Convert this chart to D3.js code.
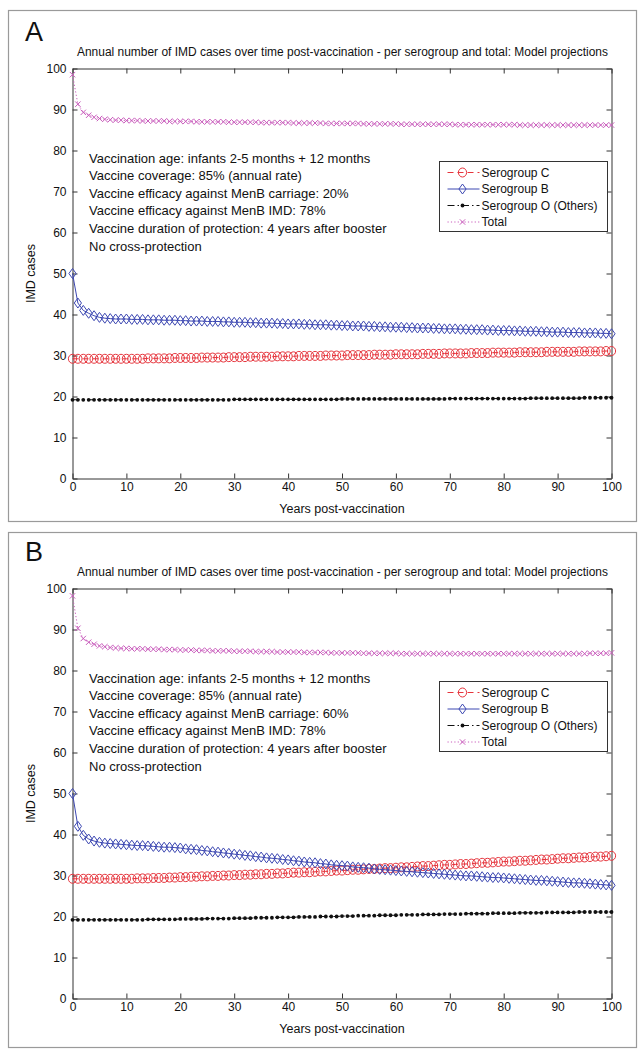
<!DOCTYPE html>
<html>
<head>
<meta charset="utf-8">
<script src="https://cdn.jsdelivr.net/npm/d3@7"></script>
<style>
  body { margin: 0; background: #fff; }
  text { font-family: "Liberation Sans", Arial, Helvetica, sans-serif; fill: #111; }
</style>
</head>
<body>
<svg id="chart" width="638" height="1055"></svg>
<script>
// Years after vaccination (x categories)
const years = [
  0,1,2,3,4,5,6,7,8,9,10,11,12,13,14,15,16,17,18,19,20,21,22,23,24,25,26,27,28,29,
  30,31,32,33,34,35,36,37,38,39,40,41,42,43,44,45,46,47,48,49,50,51,52,53,54,55,56,57,58,59,
  60,61,62,63,64,65,66,67,68,69,70,71,72,73,74,75,76,77,78,79,80,81,82,83,84,85,86,87,88,89,
  90,91,92,93,94,95,96,97,98,99,100
];

const xTicks = [0,10,20,30,40,50,60,70,80,90,100];
const yTicks = [0,10,20,30,40,50,60,70,80,90,100];

// Scenario A: 20% efficacy against MenB carriage
const serogroupC_A = [
  29.2,29.2,29.2,29.2,29.2,29.2,29.2,29.2,29.2,29.2,
  29.2,29.2,29.2,29.2,29.3,29.3,29.3,29.3,29.3,29.4,
  29.4,29.4,29.4,29.4,29.5,29.5,29.5,29.5,29.5,29.6,
  29.6,29.6,29.6,29.7,29.7,29.7,29.7,29.7,29.8,29.8,
  29.8,29.8,29.9,29.9,29.9,29.9,29.9,30.0,30.0,30.0,
  30.0,30.1,30.1,30.1,30.1,30.1,30.2,30.2,30.2,30.2,
  30.3,30.3,30.3,30.3,30.3,30.4,30.4,30.4,30.4,30.5,
  30.5,30.5,30.5,30.5,30.6,30.6,30.6,30.6,30.7,30.7,
  30.7,30.7,30.7,30.8,30.8,30.8,30.8,30.8,30.9,30.9,
  30.9,30.9,30.9,30.9,31.0,31.0,31.0,31.0,31.0,31.1,31.1
];
const serogroupB_A = [
  50.0,42.8,41.0,40.3,39.7,39.3,39.1,39.0,38.9,38.9,
  38.9,38.8,38.8,38.8,38.7,38.7,38.7,38.6,38.6,38.6,
  38.5,38.5,38.4,38.4,38.4,38.3,38.3,38.3,38.2,38.2,
  38.1,38.1,38.1,38.0,38.0,37.9,37.9,37.9,37.8,37.8,
  37.7,37.7,37.7,37.6,37.6,37.5,37.5,37.5,37.4,37.4,
  37.3,37.3,37.2,37.2,37.2,37.1,37.1,37.0,37.0,36.9,
  36.9,36.9,36.8,36.8,36.7,36.7,36.7,36.6,36.6,36.5,
  36.5,36.5,36.4,36.4,36.3,36.3,36.3,36.2,36.2,36.1,
  36.1,36.1,36.0,36.0,35.9,35.9,35.9,35.8,35.8,35.7,
  35.7,35.7,35.6,35.6,35.6,35.5,35.5,35.5,35.4,35.4,35.3
];
const serogroupO_A = [
  19.2,19.2,19.2,19.2,19.2,19.2,19.2,19.2,19.2,19.2,
  19.2,19.2,19.2,19.2,19.2,19.2,19.2,19.2,19.2,19.2,
  19.2,19.2,19.2,19.2,19.2,19.2,19.2,19.2,19.2,19.2,
  19.3,19.3,19.3,19.3,19.3,19.3,19.3,19.3,19.3,19.3,
  19.3,19.3,19.3,19.3,19.3,19.3,19.3,19.3,19.3,19.3,
  19.4,19.4,19.4,19.4,19.4,19.4,19.4,19.4,19.4,19.4,
  19.4,19.4,19.4,19.4,19.4,19.4,19.4,19.4,19.4,19.4,
  19.5,19.5,19.5,19.5,19.5,19.5,19.5,19.5,19.5,19.5,
  19.5,19.5,19.5,19.5,19.5,19.6,19.6,19.6,19.6,19.6,
  19.6,19.6,19.6,19.6,19.6,19.7,19.7,19.7,19.7,19.7,19.7
];
const total_A = [
  98.5,91.3,89.3,88.6,88.1,87.8,87.6,87.5,87.4,87.4,
  87.3,87.3,87.3,87.2,87.2,87.2,87.2,87.2,87.1,87.1,
  87.1,87.1,87.1,87.0,87.0,87.0,87.0,87.0,87.0,86.9,
  86.9,86.9,86.9,86.9,86.9,86.8,86.8,86.8,86.8,86.8,
  86.8,86.7,86.7,86.7,86.7,86.7,86.7,86.6,86.6,86.6,
  86.6,86.6,86.6,86.6,86.5,86.5,86.5,86.5,86.5,86.5,
  86.5,86.4,86.4,86.4,86.4,86.4,86.4,86.4,86.4,86.4,
  86.4,86.3,86.3,86.3,86.3,86.3,86.3,86.3,86.3,86.3,
  86.3,86.3,86.3,86.2,86.2,86.2,86.2,86.2,86.2,86.2,
  86.2,86.2,86.2,86.2,86.2,86.2,86.2,86.2,86.2,86.2,86.2
];

// Scenario B: 60% efficacy against MenB carriage
const serogroupC_B = [
  29.2,29.2,29.2,29.2,29.2,29.2,29.2,29.2,29.2,29.2,
  29.2,29.2,29.3,29.3,29.3,29.4,29.4,29.4,29.5,29.5,
  29.6,29.6,29.7,29.7,29.8,29.8,29.9,29.9,30.0,30.0,
  30.1,30.1,30.2,30.2,30.3,30.3,30.4,30.4,30.5,30.5,
  30.6,30.7,30.7,30.8,30.8,30.9,31.0,31.0,31.1,31.2,
  31.2,31.3,31.4,31.4,31.5,31.6,31.6,31.7,31.8,31.8,
  31.9,32.0,32.0,32.1,32.2,32.3,32.3,32.4,32.5,32.6,
  32.6,32.7,32.8,32.8,32.9,33.0,33.1,33.1,33.2,33.3,
  33.4,33.4,33.5,33.6,33.6,33.7,33.8,33.9,33.9,34.0,
  34.1,34.2,34.2,34.3,34.4,34.4,34.5,34.6,34.6,34.7,34.8
];
const serogroupB_B = [
  50.0,42.0,39.8,38.9,38.4,38.1,37.9,37.8,37.7,37.6,
  37.5,37.4,37.3,37.3,37.2,37.1,37.0,36.9,36.9,36.8,
  36.7,36.5,36.4,36.3,36.1,36.0,35.8,35.7,35.5,35.4,
  35.2,35.1,34.9,34.8,34.6,34.5,34.3,34.2,34.1,33.9,
  33.8,33.6,33.5,33.3,33.2,33.1,32.9,32.8,32.6,32.5,
  32.4,32.3,32.1,32.0,31.9,31.8,31.6,31.5,31.4,31.3,
  31.2,31.1,31.0,30.9,30.8,30.7,30.6,30.5,30.4,30.3,
  30.2,30.1,30.0,29.9,29.9,29.8,29.7,29.6,29.5,29.5,
  29.4,29.3,29.2,29.1,29.0,28.9,28.8,28.8,28.7,28.6,
  28.5,28.4,28.3,28.2,28.2,28.1,28.0,27.9,27.8,27.7,27.6
];
const serogroupO_B = [
  19.2,19.2,19.2,19.2,19.2,19.2,19.2,19.2,19.2,19.2,
  19.2,19.2,19.2,19.2,19.3,19.3,19.3,19.3,19.3,19.3,
  19.4,19.4,19.4,19.4,19.4,19.5,19.5,19.5,19.5,19.5,
  19.6,19.6,19.6,19.6,19.7,19.7,19.7,19.7,19.8,19.8,
  19.8,19.8,19.9,19.9,19.9,19.9,20.0,20.0,20.0,20.0,
  20.1,20.1,20.1,20.2,20.2,20.2,20.2,20.3,20.3,20.3,
  20.3,20.4,20.4,20.4,20.4,20.5,20.5,20.5,20.5,20.6,
  20.6,20.6,20.6,20.7,20.7,20.7,20.7,20.7,20.8,20.8,
  20.8,20.8,20.8,20.9,20.9,20.9,20.9,20.9,21.0,21.0,
  21.0,21.0,21.0,21.0,21.1,21.1,21.1,21.1,21.1,21.1,21.1
];
const total_B = [
  98.2,90.3,87.8,86.9,86.4,86.0,85.8,85.6,85.5,85.4,
  85.4,85.3,85.3,85.3,85.2,85.2,85.2,85.1,85.1,85.1,
  85.0,85.0,85.0,84.9,84.9,84.9,84.8,84.8,84.8,84.8,
  84.7,84.7,84.7,84.7,84.6,84.6,84.6,84.6,84.5,84.5,
  84.5,84.5,84.5,84.4,84.4,84.4,84.4,84.4,84.3,84.3,
  84.3,84.3,84.3,84.3,84.2,84.2,84.2,84.2,84.2,84.2,
  84.2,84.1,84.1,84.1,84.1,84.1,84.1,84.1,84.1,84.1,
  84.1,84.1,84.1,84.1,84.1,84.1,84.1,84.1,84.1,84.1,
  84.1,84.1,84.1,84.1,84.1,84.1,84.1,84.1,84.1,84.1,
  84.1,84.1,84.1,84.1,84.1,84.1,84.2,84.2,84.2,84.2,84.3
];

const seriesNames = ["Serogroup C", "Serogroup B", "Serogroup O (Others)", "Total"];
const chartTitle = "Annual number of IMD cases over time post-vaccination - per serogroup and total: Model projections";
const xLabel = "Years post-vaccination";
const yLabel = "IMD cases";
const notesCommon = [
  "Vaccination age: infants 2-5 months + 12 months",
  "Vaccine coverage: 85% (annual rate)"
];
const notesTail = [
  "Vaccine efficacy against MenB IMD: 78%",
  "Vaccine duration of protection: 4 years after booster",
  "No cross-protection"
];
const carriageEfficacy = ["20%", "60%"];

// Line / marker styles per series
const styles = [
  { color: "#e6343c", dash: "6,4",          marker: "circle"  },
  { color: "#3d48b2", dash: null,           marker: "diamond" },
  { color: "#111111", dash: "7,3,1.5,3",    marker: "dot"     },
  { color: "#c95cbc", dash: "1.2,2.2",      marker: "cross"   }
];

const svg = d3.select("#chart");

const plotLeft = 72.5, plotRight = 611.5;
const plotTop = 68.5, plotBottom = 478.5;
const x = d3.scaleLinear().domain([0, 100]).range([plotLeft, plotRight]);
const y = d3.scaleLinear().domain([0, 100]).range([plotBottom, plotTop]);

function drawMarker(sel, type, color, cx, cy) {
  if (type === "circle") {
    sel.append("ellipse").attr("cx", cx).attr("cy", cy).attr("rx", 4.1).attr("ry", 4.5)
      .attr("fill", "none").attr("stroke", color).attr("stroke-width", 1);
  } else if (type === "diamond") {
    sel.append("path")
      .attr("d", `M${cx},${cy - 5}L${cx + 3.6},${cy}L${cx},${cy + 5}L${cx - 3.6},${cy}Z`)
      .attr("fill", "none").attr("stroke", color).attr("stroke-width", 1);
  } else if (type === "dot") {
    sel.append("circle").attr("cx", cx).attr("cy", cy).attr("r", 1.9).attr("fill", color);
  } else {
    const s = 2.7;
    sel.append("path")
      .attr("d", `M${cx - s},${cy - s}L${cx + s},${cy + s}M${cx - s},${cy + s}L${cx + s},${cy - s}`)
      .attr("fill", "none").attr("stroke", color).attr("stroke-width", 1);
  }
}

function drawPanel(opt) {
  const g = svg.append("g").attr("transform", `translate(0,${opt.dy})`);

  // panel frame
  g.append("rect")
    .attr("x", 8.5).attr("y", opt.frameTop).attr("width", 628).attr("height", opt.frameHeight)
    .attr("fill", "none").attr("stroke", "#9a9a9a").attr("stroke-width", 1.2);

  // panel letter
  g.append("text").attr("x", 25).attr("y", 41).attr("font-size", 27).text(opt.letter);

  // title
  g.append("text")
    .attr("x", 77).attr("y", 56)
    .attr("font-size", 12)
    .style("font-family", "'Liberation Sans Narrow', 'Arial Narrow', 'Liberation Sans', Arial, sans-serif")
    .attr("textLength", 531).attr("lengthAdjust", "spacingAndGlyphs")
    .text(chartTitle);

  // axes (inward ticks on all four sides)
  const axisColor = "#333";
  const bottom = g.append("g").attr("transform", `translate(0,${plotBottom})`)
    .call(d3.axisBottom(x).tickValues(xTicks).tickSizeInner(-5).tickSizeOuter(0).tickPadding(4));
  const top = g.append("g").attr("transform", `translate(0,${plotTop})`)
    .call(d3.axisTop(x).tickValues(xTicks).tickSizeInner(-5).tickSizeOuter(0).tickFormat(""));
  const left = g.append("g").attr("transform", `translate(${plotLeft},0)`)
    .call(d3.axisLeft(y).tickValues(yTicks).tickSizeInner(-5).tickSizeOuter(0).tickPadding(6));
  const right = g.append("g").attr("transform", `translate(${plotRight},0)`)
    .call(d3.axisRight(y).tickValues(yTicks).tickSizeInner(-5).tickSizeOuter(0).tickFormat(""));
  [bottom, top, left, right].forEach(a => {
    a.select(".domain").attr("stroke", axisColor);
    a.selectAll(".tick line").attr("stroke", axisColor);
    a.selectAll(".tick text").attr("font-size", 12).attr("fill", "#111")
      .style("font-family", "'Liberation Sans', Arial, sans-serif");
  });

  // axis labels
  g.append("text").attr("x", (plotLeft + plotRight) / 2).attr("y", 513)
    .attr("text-anchor", "middle").attr("font-size", 12.5).text(xLabel);
  g.append("text").attr("transform", `translate(35,${(plotTop + plotBottom) / 2}) rotate(-90)`)
    .attr("text-anchor", "middle").attr("font-size", 12.5).text(yLabel);

  // series
  const data = [opt.c, opt.b, opt.o, opt.t];
  data.forEach((vals, i) => {
    const st = styles[i];
    const sg = g.append("g");
    const line = d3.line().x((d, k) => x(years[k])).y(d => y(d));
    sg.append("path").datum(vals).attr("d", line)
      .attr("fill", "none").attr("stroke", st.color).attr("stroke-width", 1)
      .attr("stroke-dasharray", st.dash);
    vals.forEach((v, k) => drawMarker(sg, st.marker, st.color, x(years[k]), y(v)));
  });

  // notes
  const notes = notesCommon.concat([`Vaccine efficacy against MenB carriage: ${opt.carriage}`], notesTail);
  const nt = g.append("g");
  notes.forEach((s, i) => {
    nt.append("text").attr("x", 89).attr("y", plotTop + 94 + i * 17.6)
      .attr("font-size", 13).text(s);
  });

  // legend
  const lgTop = plotTop + 93, lgLeft = 439.5, lgW = 168, lgH = 70;
  const lg = g.append("g");
  lg.append("rect").attr("x", lgLeft).attr("y", lgTop).attr("width", lgW).attr("height", lgH)
    .attr("fill", "#fff").attr("stroke", "#333").attr("stroke-width", 1);
  seriesNames.forEach((name, i) => {
    const st = styles[i];
    const cy = lgTop + 11 + i * 16.5;
    lg.append("line").attr("x1", lgLeft + 8).attr("x2", lgLeft + 40).attr("y1", cy).attr("y2", cy)
      .attr("stroke", st.color).attr("stroke-width", 1).attr("stroke-dasharray", st.dash);
    drawMarker(lg, st.marker, st.color, lgLeft + 23, cy);
    lg.append("text").attr("x", lgLeft + 42).attr("y", cy + 4.3).attr("font-size", 12).text(name);
  });
}

drawPanel({ letter: "A", dy: 0, frameTop: 10.5, frameHeight: 511,
  carriage: carriageEfficacy[0], c: serogroupC_A, b: serogroupB_A, o: serogroupO_A, t: total_A });
drawPanel({ letter: "B", dy: 520, frameTop: 12.5, frameHeight: 515,
  carriage: carriageEfficacy[1], c: serogroupC_B, b: serogroupB_B, o: serogroupO_B, t: total_B });
</script>
</body>
</html>
